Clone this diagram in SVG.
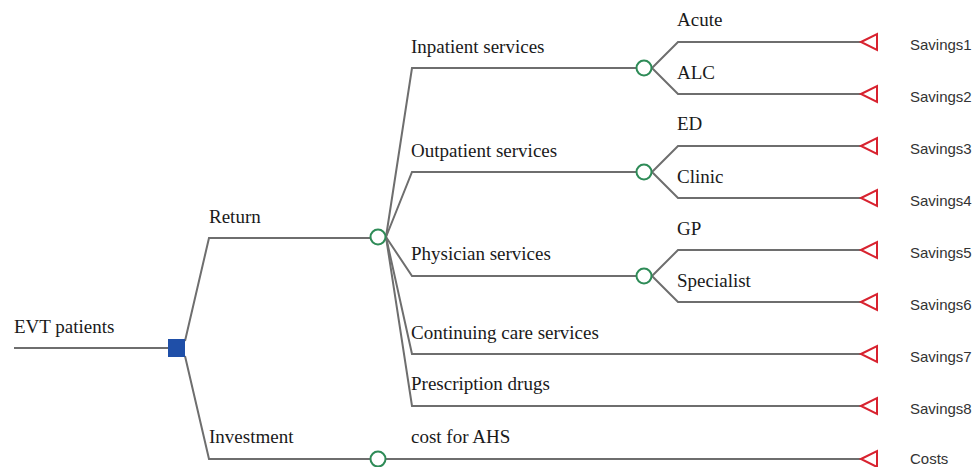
<svg xmlns="http://www.w3.org/2000/svg" width="976" height="467" viewBox="0 0 976 467">
<defs>
<style>
.ln{fill:none;stroke:#6e6e6e;stroke-width:2}
.ch{fill:#fff;stroke:#2e8b57;stroke-width:2}
.tm{fill:#fff;stroke:#d8222f;stroke-width:2}
.dc{fill:#1f4fa8}
.lb{font-family:"Liberation Serif","Times New Roman",serif;font-size:19px;fill:#1a1a1a}
.tl{font-family:"Liberation Sans",Arial,sans-serif;font-size:15px;fill:#333}
</style>
</defs>
<rect width="976" height="467" fill="#fff"/>
<g id="connectors">
<path class="ln" d="M14 348H168"/>
<path class="ln" d="M185 341L209 238H370"/>
<path class="ln" d="M185 356L209 459H370"/>
<path class="ln" d="M386 459H861"/>
<path class="ln" d="M386 237L412 68H636"/>
<path class="ln" d="M386 237L412 172H636"/>
<path class="ln" d="M386 237L412 276H636"/>
<path class="ln" d="M386 237L412 354H861"/>
<path class="ln" d="M386 237L412 406H861"/>
<path class="ln" d="M652 68L678 42H861M652 68L678 94H861"/>
<path class="ln" d="M652 172L678 146H861M652 172L678 198H861"/>
<path class="ln" d="M652 276L678 250H861M652 276L678 302H861"/>
</g>
<g id="n-evt"><rect class="dc" x="168" y="339" width="17" height="18"/><text class="lb" x="14" y="333">EVT patients</text></g>
<g id="n-return"><circle class="ch" cx="378" cy="237" r="7.5"/><text class="lb" x="209" y="223">Return</text></g>
<g id="n-investment"><circle class="ch" cx="378" cy="459" r="7.5"/><text class="lb" x="209" y="443">Investment</text><text class="lb" x="411" y="443">cost for AHS</text></g>
<g id="n-inpatient"><circle class="ch" cx="644" cy="68" r="7.5"/><text class="lb" x="411" y="53">Inpatient services</text></g>
<g id="n-outpatient"><circle class="ch" cx="644" cy="172" r="7.5"/><text class="lb" x="411" y="157">Outpatient services</text></g>
<g id="n-physician"><circle class="ch" cx="644" cy="276" r="7.5"/><text class="lb" x="411" y="260">Physician services</text></g>
<g id="l-continuing"><text class="lb" x="411" y="339">Continuing care services</text></g>
<g id="l-prescription"><text class="lb" x="411" y="390">Prescription drugs</text></g>
<g id="l-sub">
<text class="lb" x="677" y="26">Acute</text>
<text class="lb" x="677" y="79">ALC</text>
<text class="lb" x="677" y="130">ED</text>
<text class="lb" x="677" y="183">Clinic</text>
<text class="lb" x="677" y="235">GP</text>
<text class="lb" x="677" y="287">Specialist</text>
</g>
<g id="t-s1"><polygon class="tm" points="861,42 877,34 877,50"/><text class="tl" x="910" y="50">Savings1</text></g>
<g id="t-s2"><polygon class="tm" points="861,94 877,86 877,102"/><text class="tl" x="910" y="102">Savings2</text></g>
<g id="t-s3"><polygon class="tm" points="861,146 877,138 877,154"/><text class="tl" x="910" y="154">Savings3</text></g>
<g id="t-s4"><polygon class="tm" points="861,198 877,190 877,206"/><text class="tl" x="910" y="206">Savings4</text></g>
<g id="t-s5"><polygon class="tm" points="861,250 877,242 877,258"/><text class="tl" x="910" y="258">Savings5</text></g>
<g id="t-s6"><polygon class="tm" points="861,302 877,294 877,310"/><text class="tl" x="910" y="310">Savings6</text></g>
<g id="t-s7"><polygon class="tm" points="861,354 877,346 877,362"/><text class="tl" x="910" y="362">Savings7</text></g>
<g id="t-s8"><polygon class="tm" points="861,406 877,398 877,414"/><text class="tl" x="910" y="414">Savings8</text></g>
<g id="t-costs"><polygon class="tm" points="861,459 877,451 877,467"/><text class="tl" x="910" y="464">Costs</text></g>
</svg>
